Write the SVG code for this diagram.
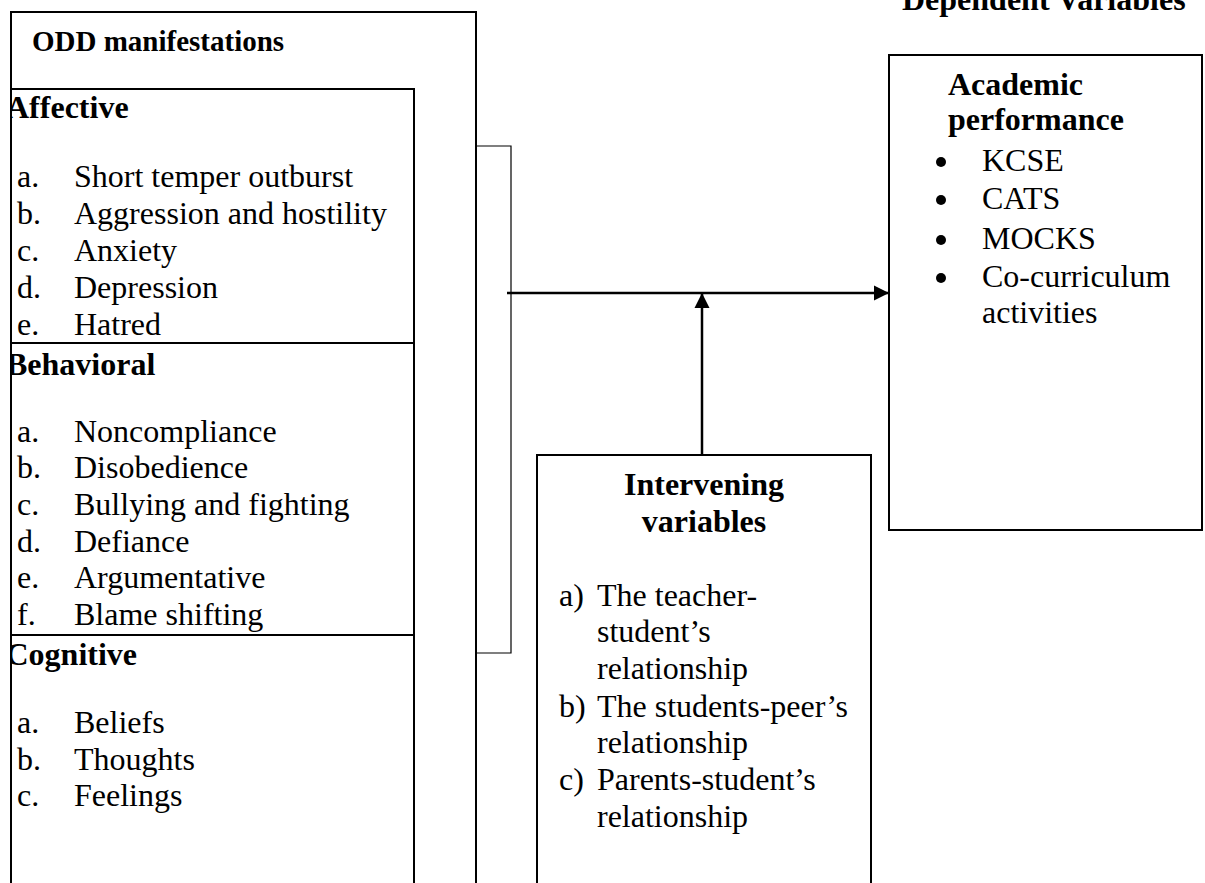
<svg xmlns="http://www.w3.org/2000/svg" width="1205" height="883" viewBox="0 0 1205 883">
<style>
.box{fill:none;stroke:#000;stroke-width:2}
.thin{fill:none;stroke:#000;stroke-width:1.2}
.t{font-family:"Liberation Serif","Times New Roman",serif;font-size:32px;fill:#000}
.b{font-family:"Liberation Serif","Times New Roman",serif;font-size:32px;font-weight:bold;fill:#000}
.h{font-family:"Liberation Serif","Times New Roman",serif;font-size:29px;font-weight:bold;fill:#000}
.conn{fill:none;stroke:#000;stroke-width:2.5}
.dot{fill:#000}
</style>
<defs>
<marker id="ah" viewBox="0 0 10 10" refX="10" refY="5" markerWidth="6" markerHeight="6.4" markerUnits="strokeWidth" orient="auto">
<path d="M0,0 L10,5 L0,10 Z" fill="#000"/>
</marker>
<clipPath id="clipL"><rect x="11" y="0" width="500" height="883"/></clipPath>
</defs>
<rect width="1205" height="883" fill="#fff"/>

<text class="b" x="902" y="10">Dependent Variables</text>

<g id="odd">
<rect class="box" x="11" y="12" width="465" height="900"/>
<text class="h" x="32" y="51">ODD manifestations</text>
</g>

<g id="affective">
<rect class="box" x="11" y="89" width="403" height="254" stroke-width="1.5"/>
<text class="b" x="6" y="118" clip-path="url(#clipL)">Affective</text>
<text class="t" x="17" y="187">a.</text><text class="t" x="74" y="187">Short temper outburst</text>
<text class="t" x="17" y="224">b.</text><text class="t" x="74" y="224">Aggression and hostility</text>
<text class="t" x="17" y="261">c.</text><text class="t" x="74" y="261">Anxiety</text>
<text class="t" x="17" y="298">d.</text><text class="t" x="74" y="298">Depression</text>
<text class="t" x="17" y="335">e.</text><text class="t" x="74" y="335">Hatred</text>
</g>

<g id="behavioral">
<rect class="box" x="11" y="343" width="403" height="292" stroke-width="1.5"/>
<text class="b" x="6" y="375" clip-path="url(#clipL)">Behavioral</text>
<text class="t" x="17" y="442">a.</text><text class="t" x="74" y="442">Noncompliance</text>
<text class="t" x="17" y="478">b.</text><text class="t" x="74" y="478">Disobedience</text>
<text class="t" x="17" y="515">c.</text><text class="t" x="74" y="515">Bullying and fighting</text>
<text class="t" x="17" y="552">d.</text><text class="t" x="74" y="552">Defiance</text>
<text class="t" x="17" y="588">e.</text><text class="t" x="74" y="588">Argumentative</text>
<text class="t" x="17" y="625">f.</text><text class="t" x="74" y="625">Blame shifting</text>
</g>

<g id="cognitive">
<rect class="box" x="11" y="635" width="403" height="300" stroke-width="1.5"/>
<text class="b" x="5.5" y="665" clip-path="url(#clipL)">Cognitive</text>
<text class="t" x="17" y="733">a.</text><text class="t" x="74" y="733">Beliefs</text>
<text class="t" x="17" y="770">b.</text><text class="t" x="74" y="770">Thoughts</text>
<text class="t" x="17" y="806">c.</text><text class="t" x="74" y="806">Feelings</text>
</g>

<g id="academic">
<rect class="box" x="889" y="55" width="313" height="475"/>
<text class="b" x="948" y="95">Academic</text>
<text class="b" x="948" y="130">performance</text>
<circle class="dot" cx="941" cy="162" r="5"/><text class="t" x="982" y="171">KCSE</text>
<circle class="dot" cx="941" cy="200" r="5"/><text class="t" x="982" y="209">CATS</text>
<circle class="dot" cx="941" cy="240" r="5"/><text class="t" x="982" y="249">MOCKS</text>
<circle class="dot" cx="941" cy="278" r="5"/><text class="t" x="982" y="287">Co-curriculum</text>
<text class="t" x="982" y="323">activities</text>
</g>

<g id="intervening">
<rect class="box" x="537" y="455" width="334" height="500"/>
<text class="b" x="704" y="495" text-anchor="middle">Intervening</text>
<text class="b" x="704" y="532" text-anchor="middle">variables</text>
<text class="t" x="559" y="606">a)</text><text class="t" x="597" y="606">The teacher-</text>
<text class="t" x="597" y="642">student’s</text>
<text class="t" x="597" y="679">relationship</text>
<text class="t" x="559" y="717">b)</text><text class="t" x="597" y="717">The students-peer’s</text>
<text class="t" x="597" y="753">relationship</text>
<text class="t" x="559" y="790">c)</text><text class="t" x="597" y="790">Parents-student’s</text>
<text class="t" x="597" y="827">relationship</text>
</g>

<g id="connectors">
<path class="thin" d="M476,146 H511 V653 H476" stroke="#333"/>
<line class="conn" x1="507" y1="293" x2="889" y2="293" marker-end="url(#ah)"/>
<line class="conn" x1="702" y1="455" x2="702" y2="293" marker-end="url(#ah)"/>
</g>
</svg>
